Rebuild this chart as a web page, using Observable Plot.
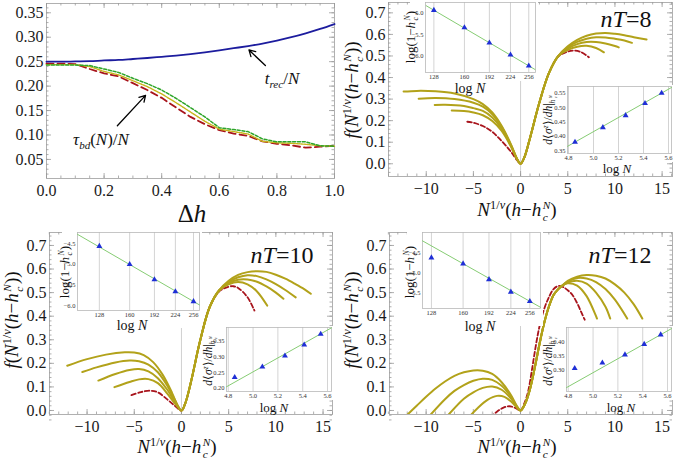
<!DOCTYPE html>
<html><head><meta charset="utf-8">
<script src="https://cdn.jsdelivr.net/npm/d3@7"></script>
<script src="https://cdn.jsdelivr.net/npm/@observablehq/plot@0.6"></script>
<style>
body{margin:0;background:#fff;}
#fig{position:relative;width:675px;height:461px;overflow:hidden;background:#fff;font-family:"Liberation Serif","Times New Roman",serif;}
#fig svg text{font-family:"Liberation Serif","Times New Roman",serif !important;}
.lbl{position:absolute;white-space:nowrap;transform:translate(-50%,-50%);line-height:1;color:#111;}
.rot{transform:translate(-50%,-50%) rotate(-90deg);}
.ss{display:inline-flex;flex-direction:column;vertical-align:middle;font-size:0.6em;line-height:1;margin-left:1.5px;}
sup,sub{font-size:0.65em;line-height:0;}
</style></head><body><div id="fig"></div>
<script>
// ---------- Panel 1 data (Δh) ----------
const dh     = [0,0.05,0.1,0.15,0.2,0.25,0.3,0.35,0.4,0.45,0.5,0.55,0.6,0.65,0.7,0.75,0.8,0.85,0.9,0.95,1.0];
const tRec   = [0.250,0.250,0.2505,0.251,0.2525,0.2535,0.2555,0.2575,0.260,0.2625,0.2655,0.269,0.273,0.2775,0.282,0.287,0.293,0.300,0.308,0.317,0.327];
const tauG   = [0.243,0.243,0.243,0.242,0.235,0.228,0.216,0.205,0.192,0.175,0.156,0.137,0.115,0.111,0.107,0.092,0.086,0.086,0.086,0.078,0.077];
const tauY   = [0.244,0.244,0.244,0.240,0.230,0.223,0.211,0.199,0.184,0.166,0.147,0.128,0.112,0.107,0.102,0.087,0.084,0.083,0.081,0.078,0.077];
const tauR   = [0.246,0.246,0.245,0.235,0.226,0.220,0.206,0.192,0.176,0.156,0.137,0.122,0.110,0.103,0.098,0.087,0.082,0.079,0.074,0.076,0.078];
const p1Arrows = [{x1:0.76,y1:0.242,x2:0.703,y2:0.274},{x1:0.246,y1:0.119,x2:0.344,y2:0.181}];
const p1XTicks = [0,0.2,0.4,0.6,0.8,1.0];
const p1YTicks = [0.05,0.10,0.15,0.20,0.25,0.30,0.35];

// ---------- Scaling-collapse curves ----------
const nT8_A = [[-12.4,0.335],[-11,0.338],[-9,0.336],[-7,0.326],[-5,0.3],[-4,0.277],[-3,0.238],[-2,0.175],[-1,0.088],[-0.4,0.025],[0,0],[0.4,0.03],[1,0.12],[2,0.285],[3,0.42],[4,0.5],[5,0.545],[6,0.575],[7,0.594],[8,0.604],[9,0.607],[10,0.603],[11,0.596],[12,0.587],[13.35,0.576]];
const nT8_B = [[-10.8,0.302],[-9,0.305],[-7,0.3],[-5,0.283],[-4,0.265],[-3,0.23],[-2,0.17],[-1,0.085],[-0.4,0.025],[0,0],[0.4,0.03],[1,0.12],[2,0.285],[3,0.42],[4,0.5],[5,0.54],[6,0.565],[7,0.58],[8,0.587],[9,0.586],[10,0.58],[11,0.572],[11.8,0.561]];
const nT8_C = [[-9.1,0.273],[-8,0.274],[-6,0.268],[-5,0.258],[-4,0.245],[-3,0.215],[-2,0.162],[-1,0.082],[-0.4,0.024],[0,0],[0.4,0.03],[1,0.12],[2,0.285],[3,0.42],[4,0.5],[5,0.535],[6,0.555],[7,0.565],[8,0.565],[9,0.558],[10,0.546],[10.4,0.54]];
const nT8_D = [[-7.3,0.247],[-6,0.245],[-5,0.238],[-4,0.225],[-3,0.198],[-2,0.152],[-1,0.078],[-0.4,0.023],[0,0],[0.4,0.03],[1,0.12],[2,0.285],[3,0.42],[4,0.5],[5,0.528],[6,0.543],[7,0.547],[8,0.537],[8.83,0.517]];
const nT8_R = [[-5.65,0.195],[-5,0.19],[-4,0.175],[-3,0.148],[-2,0.105],[-1,0.055],[-0.4,0.018],[0,0],[0.4,0.03],[1,0.12],[2,0.285],[3,0.42],[4,0.497],[5,0.52],[5.6,0.525],[6.4,0.518],[7.24,0.494]];

const nT10_A = [[-12.1,0.19],[-10,0.218],[-8,0.237],[-6,0.247],[-5,0.246],[-4,0.235],[-3,0.205],[-2,0.152],[-1,0.075],[-0.4,0.02],[0,0],[0.4,0.03],[1,0.12],[2,0.3],[3,0.44],[4,0.51],[5,0.55],[6,0.575],[7,0.587],[8,0.591],[9,0.588],[10,0.576],[11,0.559],[12,0.538],[13,0.515],[13.7,0.495]];
const nT10_B = [[-10.5,0.163],[-9,0.183],[-7,0.204],[-5.5,0.212],[-4.5,0.209],[-3.5,0.195],[-2.5,0.162],[-1.5,0.105],[-0.7,0.045],[0,0],[0.4,0.03],[1,0.12],[2,0.3],[3,0.44],[4,0.51],[5,0.545],[6,0.565],[7,0.574],[8,0.57],[9,0.556],[10,0.536],[11,0.511],[12.1,0.48]];
const nT10_C = [[-8.8,0.127],[-7,0.155],[-5.5,0.172],[-4.5,0.176],[-3.5,0.166],[-2.5,0.137],[-1.5,0.088],[-0.7,0.038],[0,0],[0.4,0.03],[1,0.12],[2,0.3],[3,0.44],[4,0.51],[5,0.54],[6,0.555],[7,0.556],[8,0.546],[9,0.526],[10,0.5],[10.8,0.474]];
const nT10_D = [[-7.1,0.099],[-5.5,0.121],[-4.5,0.132],[-3.5,0.133],[-2.5,0.116],[-1.5,0.072],[-0.7,0.03],[0,0],[0.4,0.03],[1,0.12],[2,0.3],[3,0.44],[4,0.51],[5,0.535],[6,0.545],[7,0.535],[8,0.505],[9.08,0.445]];
const nT10_R = [[-5.3,0.065],[-4.3,0.078],[-3.3,0.084],[-2.5,0.077],[-1.5,0.047],[-0.7,0.02],[0,0],[0.4,0.03],[1,0.12],[2,0.3],[3,0.44],[4,0.505],[5,0.525],[5.5,0.527],[6,0.52],[7,0.48],[7.73,0.424]];

const nT12_A = [[-12.3,-0.03],[-11,0.02],[-10,0.058],[-9,0.093],[-8,0.123],[-7,0.147],[-6,0.162],[-5,0.17],[-4,0.169],[-3,0.155],[-2,0.12],[-1,0.065],[-0.4,0.02],[0,0],[0.5,0.03],[1,0.09],[1.5,0.18],[2,0.28],[2.5,0.37],[3,0.44],[3.5,0.49],[4,0.515],[4.5,0.532],[5,0.55],[6,0.568],[7,0.575],[8,0.572],[9,0.56],[10,0.535],[11,0.5],[12,0.45],[12.9,0.39]];
const nT12_B = [[-9.8,-0.03],[-8,0.048],[-7,0.083],[-6,0.108],[-5,0.126],[-4,0.135],[-3,0.13],[-2,0.105],[-1,0.058],[-0.4,0.018],[0,0],[0.5,0.03],[1,0.09],[1.5,0.18],[2,0.28],[2.5,0.37],[3,0.44],[3.5,0.49],[4,0.515],[4.5,0.532],[5,0.547],[6,0.562],[7,0.56],[8,0.545],[9,0.515],[10,0.47],[11.3,0.39]];
const nT12_C = [[-7.9,-0.03],[-6,0.05],[-5,0.077],[-4,0.096],[-3,0.102],[-2,0.088],[-1,0.05],[-0.4,0.016],[0,0],[0.5,0.03],[1,0.09],[1.5,0.18],[2,0.28],[2.5,0.37],[3,0.44],[3.5,0.49],[4,0.515],[4.5,0.532],[5,0.543],[6,0.55],[7,0.538],[8,0.5],[9,0.44],[9.5,0.39]];
const nT12_D = [[-5.5,-0.03],[-4.5,0.012],[-3.5,0.045],[-2.5,0.062],[-1.7,0.058],[-1,0.038],[-0.4,0.013],[0,0],[0.5,0.03],[1,0.09],[1.5,0.18],[2,0.28],[2.5,0.37],[3,0.44],[3.5,0.49],[4,0.515],[4.5,0.532],[5,0.54],[6,0.53],[7,0.485],[8,0.4],[8.1,0.39]];
const nT12_R = [[-3.2,-0.03],[-2.5,-0.005],[-1.8,0.012],[-1.2,0.018],[-0.6,0.012],[0,0],[0.4,0.03],[0.8,0.08],[1.2,0.17],[1.6,0.27],[2,0.355],[2.5,0.43],[3,0.48],[3.5,0.515],[4,0.528],[4.5,0.524],[5,0.51],[5.5,0.49],[6,0.455],[6.4,0.42],[6.8,0.385]];

const mainXTicks = [-10,-5,0,5,10,15];
const mainYTicks = [0,0.1,0.2,0.3,0.4,0.5,0.6,0.7];

// ---------- Inset data ----------
const sizesN = [128,160,192,224,256];
const logN   = [4.852,5.075,5.257,5.412,5.545];
const inset1Y_8  = [-4.93,-5.337,-5.695,-5.977,-6.234];
const inset1Y_10 = [-4.56,-5.0,-5.37,-5.66,-5.90];
const inset1Y_12 = [-4.615,-4.765,-5.16,-5.475,-5.71];
const fit1N_8  = [121,268],   fit1Y_8  = [-4.825,-6.32];
const fit1N_10 = [109,267.5], fit1Y_10 = [-4.27,-5.985];
const fit1N_12 = [120.2,276], fit1Y_12 = [-4.19,-5.86];
const inset2Y_8  = [0.38,0.431,0.473,0.515,0.551];
const inset2Y_10 = [0.235,0.268,0.303,0.338,0.372];
const inset2Y_12 = [0.305,0.325,0.354,0.392,0.426];
const fit2X_8  = [4.792,5.624], fit2Y_8  = [0.365,0.5705];
const fit2X_10 = [4.786,5.632], fit2Y_10 = [0.205,0.392];
const fit2X_12 = [4.786,5.632], fit2Y_12 = [0.236,0.448];
const inset1XTicks = [128,160,192,224,256];
const inset2XTicks = [4.8,5.0,5.2,5.4,5.6];

// ---------- helpers ----------
const fig = document.getElementById("fig");
const YEL = "#b2a21a", RED = "#a8141c";
const SERIF = '"Liberation Serif", "Times New Roman", serif';
function place(svg, left, top, bg, overflow){
  svg.style.position = "absolute"; svg.style.left = left+"px"; svg.style.top = top+"px";
  svg.style.background = bg || "transparent"; svg.style.maxWidth = "none";
  if (overflow) svg.style.overflow = "visible";
  fig.appendChild(svg);
}
function label(html, cx, cy, size, rot){
  const d = document.createElement("div");
  d.className = "lbl" + (rot ? " rot" : "");
  d.style.left = cx+"px"; d.style.top = cy+"px"; d.style.fontSize = size+"px";
  d.innerHTML = html; fig.appendChild(d);
}
const minusFmt = d => (d < 0 ? "\u2212" : "") + Math.abs(d);
function frameTicks(xMaj, xMin, yMaj, yMin, ph, pw){
  const s = {stroke:"#9a9a9a", strokeWidth:0.8};
  return [
    Plot.tickX(xMaj,{x:d=>d, ...s, insetTop:ph-5}),
    Plot.tickX(xMaj,{x:d=>d, ...s, insetBottom:ph-5}),
    Plot.tickX(xMin,{x:d=>d, ...s, insetTop:ph-2.5}),
    Plot.tickX(xMin,{x:d=>d, ...s, insetBottom:ph-2.5}),
    Plot.tickY(yMaj,{y:d=>d, ...s, insetRight:pw-5}),
    Plot.tickY(yMaj,{y:d=>d, ...s, insetLeft:pw-5}),
    Plot.tickY(yMin,{y:d=>d, ...s, insetRight:pw-2.5}),
    Plot.tickY(yMin,{y:d=>d, ...s, insetLeft:pw-2.5})
  ];
}
function mainPanel(c){
  const ph = c.height - c.mT - c.mB, pw = c.width - c.mL - c.mR;
  const svg = Plot.plot({
    width:c.width, height:c.height, marginLeft:c.mL, marginRight:c.mR, marginTop:c.mT, marginBottom:c.mB,
    x:{domain:c.xDomain}, y:{domain:c.yDomain},
    style:{fontFamily:SERIF, fontSize:"16px", color:"#1a1a1a", background:"transparent"},
    marks:[
      ...(c.under || []),
      Plot.frame({stroke:"#b0b0b0"}),
      ...frameTicks(c.xTicks, c.xMinor, c.yTicks, c.yMinor, ph, pw),
      Plot.axisX(c.xTicks,{tickSize:0, tickPadding:6, tickFormat:c.xFmt, label:null}),
      Plot.axisY(c.yTicks,{tickSize:0, tickPadding:3, tickFormat:c.yFmt, label:null}),
      ...c.marks
    ]
  });
  place(svg, c.left, c.top, null, c.overflow);
}
function inset(c){
  const w = c.fx1 - c.fx0, h = c.fy1 - c.fy0;
  const tx = c.logX ? Math.log : (v => v);
  const pts = c.px.map((x,i)=>({x:tx(x), y:c.py[i]}));
  const fit = c.fx.map((x,i)=>({x:tx(x), y:c.fy[i]}));
  const xt = c.xTicks.map(tx);
  const svg = Plot.plot({
    width:c.mL + w + c.mR, height:c.mT + h + c.mB,
    marginLeft:c.mL, marginRight:c.mR, marginTop:c.mT, marginBottom:c.mB,
    x:{domain:c.xDomain.map(tx)}, y:{domain:c.yDomain},
    style:{fontFamily:SERIF, fontSize:"6.5px", color:"#333"},
    marks:[
      Plot.gridX(xt,{stroke:"#c8c8c8", strokeOpacity:1, strokeWidth:0.8}),
      Plot.frame({stroke:"#b8b8b8", strokeWidth:0.8}),
      Plot.axisX(xt,{tickSize:0, tickPadding:2, tickFormat:c.xFmt, label:null}),
      Plot.axisY(c.yTicks,{tickSize:0, tickPadding:2, tickFormat:c.yFmt, label:null}),
      Plot.line(fit,{x:"x", y:"y", stroke:"#86cc73", strokeWidth:1}),
      Plot.dot(pts,{x:"x", y:"y", symbol:"triangle", r:2.2, fill:"#1f2fd6", stroke:"none"})
    ]
  });
  place(svg, c.fx0 - c.mL, c.fy0 - c.mT, "white");
}
const lineOpts = (stroke, extra) => ({x:d=>d[0], y:d=>d[1], stroke, strokeWidth:2, curve:"catmull-rom", ...extra});
function collapseMarks(A,B,C,D,R, clip){
  return [
    Plot.line(R, lineOpts(RED,{strokeWidth:1.8, strokeDasharray:"4.5,2.5", clip})),
    Plot.line(D, lineOpts(YEL,{clip})),
    Plot.line(C, lineOpts(YEL,{clip})),
    Plot.line(B, lineOpts(YEL,{clip})),
    Plot.line(A, lineOpts(YEL,{clip}))
  ];
}

// ---------- Panel 1 ----------
const p1 = dh.map((x,i)=>({x, trec:tRec[i], g:tauG[i], yv:tauY[i], r:tauR[i]}));
mainPanel({
  left:0, top:0, width:340, height:230, mL:46, mR:6, mT:3, mB:52, overflow:true,
  xDomain:[0,1], yDomain:[0.011,0.369],
  xTicks:p1XTicks, xMinor:d3.range(0,1.001,0.05), yTicks:p1YTicks, yMinor:d3.range(0.02,0.37,0.01),
  xFmt:d=>d.toFixed(1), yFmt:d=>d.toFixed(2),
  marks:[
    Plot.line(p1,{x:"x", y:"r", stroke:RED, strokeWidth:1.8, strokeDasharray:"7,4"}),
    Plot.line(p1,{x:"x", y:"yv", stroke:"#c7b51a", strokeWidth:1.4, strokeDasharray:"1.5,1"}),
    Plot.line(p1,{x:"x", y:"g", stroke:"#2ea52a", strokeWidth:1.5, strokeDasharray:"3,1.8"}),
    Plot.line(p1,{x:"x", y:"trec", stroke:"#1c1c9e", strokeWidth:1.8, curve:"monotone-x"}),
    Plot.arrow(p1Arrows,{x1:"x1", y1:"y1", x2:"x2", y2:"y2", stroke:"black", strokeWidth:1.3, headLength:8})
  ]
});
label('Δ<i>h</i>', 192, 213, 25);
label('<i>t</i><sub><i>rec</i></sub>/<i>N</i>', 282, 78, 17);
label('<i>τ</i><sub><i>bd</i></sub>(<i>N</i>)/<i>N</i>', 101, 139, 17);

// ---------- Panels 2-4 ----------
const hcN = '<i>h</i><span class="ss"><i>N</i><i>c</i></span>';
const xLab = `<i>N</i><sup>1/<i>ν</i></sup>(<i>h</i>−${hcN})`;
const yLab = `<i>f</i>(<i>N</i><sup>1/<i>ν</i></sup>(<i>h</i>−${hcN}))`;
const in1Lab = `log(1−${hcN})`;
const in2Lab = `<i>d</i>⟨<i>σ</i><sup><i>z</i></sup>⟩/<i>dh</i>|<sub>${hcN}</sub>`;
const logNLab = 'log <i>N</i>';
const grid0 = Plot.ruleX([0],{stroke:"#d0d0d0", strokeWidth:1});
const common = {xTicks:mainXTicks, xMinor:d3.range(-14,17,1), yTicks:mainYTicks, yMinor:d3.range(-0.04,0.76,0.02).map(v=>+v.toFixed(2)), xFmt:minusFmt, yFmt:d=>d.toFixed(1)};

mainPanel({...common, left:340, top:0, width:335, height:230, mL:48, mR:3, mT:2, mB:54,
  xDomain:[-14,16.1], yDomain:[-0.059,0.748], under:[grid0],
  marks:collapseMarks(nT8_A,nT8_B,nT8_C,nT8_D,nT8_R,false)});
mainPanel({...common, left:0, top:230, width:340, height:231, mL:49, mR:8, mT:2, mB:47,
  xDomain:[-13.98,16.0], yDomain:[-0.017,0.755], under:[grid0],
  marks:collapseMarks(nT10_A,nT10_B,nT10_C,nT10_D,nT10_R,false)});
mainPanel({...common, left:340, top:230, width:335, height:231, mL:49, mR:3, mT:2, mB:47,
  xDomain:[-13.88,16.1], yDomain:[-0.017,0.755], under:[grid0],
  marks:collapseMarks(nT12_A,nT12_B,nT12_C,nT12_D,nT12_R,true)});

const f1 = d=>d3.format(".1f")(d), f2 = d=>d3.format(".2f")(d);
const fN = d=>String(Math.round(Math.exp(d)));
// nT=8 insets
inset({fx0:425, fx1:535, fy0:2, fy1:72, mL:15, mR:3, mT:1, mB:9, logX:true, xDomain:[120.4,268.9], yDomain:[-6.39,-4.75],
  xTicks:inset1XTicks, yTicks:[-5.0,-5.5,-6.0], xFmt:fN, yFmt:f1, px:sizesN, py:inset1Y_8, fx:fit1N_8, fy:fit1Y_8});
inset({fx0:567, fx1:671, fy0:86, fy1:153, mL:14, mR:2, mT:1, mB:9, xDomain:[4.792,5.624], yDomain:[0.34,0.574],
  xTicks:inset2XTicks, yTicks:[0.35,0.40,0.45,0.50,0.55], xFmt:f1, yFmt:f2, px:logN, py:inset2Y_8, fx:fit2X_8, fy:fit2Y_8});
// nT=10 insets
inset({fx0:77, fx1:199, fy0:232, fy1:310, mL:15, mR:3, mT:1, mB:18, logX:true, xDomain:[109,267.5], yDomain:[-6.12,-4.225],
  xTicks:inset1XTicks, yTicks:[-4.5,-5.0,-5.5,-6.0], xFmt:fN, yFmt:f1, px:sizesN, py:inset1Y_10, fx:fit1N_10, fy:fit1Y_10});
inset({fx0:226, fx1:331, fy0:327, fy1:391, mL:14, mR:2, mT:1, mB:9, xDomain:[4.786,5.632], yDomain:[0.19,0.393],
  xTicks:inset2XTicks, yTicks:[0.20,0.25,0.30,0.35], xFmt:f1, yFmt:f2, px:logN, py:inset2Y_10, fx:fit2X_10, fy:fit2Y_10});
// nT=12 insets
inset({fx0:422, fx1:540, fy0:232, fy1:308, mL:15, mR:3, mT:1, mB:18, logX:true, xDomain:[120.2,276], yDomain:[-5.89,-3.98],
  xTicks:inset1XTicks, yTicks:[-4.5,-5.0,-5.5], xFmt:fN, yFmt:f1, px:sizesN, py:inset1Y_12, fx:fit1N_12, fy:fit1Y_12});
inset({fx0:566, fx1:671, fy0:327, fy1:391, mL:14, mR:2, mT:1, mB:9, xDomain:[4.786,5.632], yDomain:[0.222,0.452],
  xTicks:inset2XTicks, yTicks:[0.30,0.35,0.40], xFmt:f1, yFmt:f2, px:logN, py:inset2Y_12, fx:fit2X_12, fy:fit2Y_12});

// labels panels 2-4
label(xLab, 517, 212, 19); label(yLab, 354, 90, 19, true); label('<i>nT</i>=8', 626, 19, 24);
label(in1Lab, 412, 37, 13, true); label(logNLab, 470, 89, 14);
label(in2Lab, 551, 120, 11.5, true); label(logNLab, 617, 168, 13);

label(xLab, 177, 449, 19); label(yLab, 14, 320, 19, true); label('<i>nT</i>=10', 282, 255, 24);
label(in1Lab, 66, 272, 13, true); label(logNLab, 132, 326, 14);
label(in2Lab, 211, 361, 11.5, true); label(logNLab, 274, 407, 13);

label(xLab, 517, 449, 19); label(yLab, 354, 320, 19, true); label('<i>nT</i>=12', 620, 255, 24);
label(in1Lab, 411, 272, 13, true); label(logNLab, 480, 327, 14);
label(in2Lab, 551, 361, 11.5, true); label(logNLab, 621, 407, 13);
</script></body></html>
